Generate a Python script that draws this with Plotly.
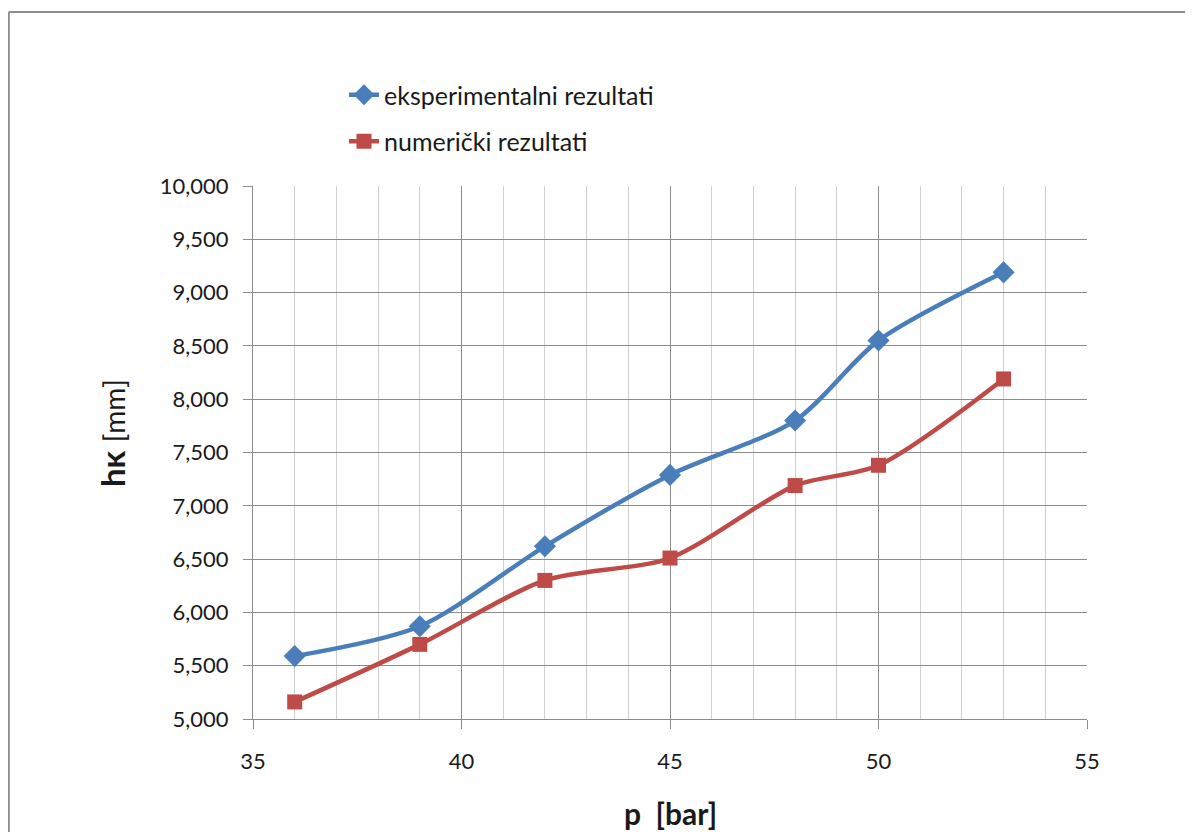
import plotly.graph_objects as go

p_exp = [36, 39, 42, 45, 48, 50, 53]
hk_exp = [5.59, 5.87, 6.62, 7.29, 7.80, 8.55, 9.19]
p_num = [36, 39, 42, 45, 48, 50, 53]
hk_num = [5.16, 5.70, 6.30, 6.51, 7.19, 7.38, 8.19]
name_exp = "eksperimentalni rezultati"
name_num = "numerički rezultati"

BLUE = "#4A7EBB"
RED = "#BE4B48"
FONT = "Lato, 'Liberation Sans', sans-serif"

fig = go.Figure()
fig.add_trace(go.Scatter(
    x=p_exp, y=hk_exp, name=name_exp, mode="lines+markers",
    line=dict(color=BLUE, width=4.5, shape="spline", smoothing=0.8),
    marker=dict(symbol="diamond", size=17, color=BLUE),
    legendgroup="a",
))
fig.add_trace(go.Scatter(
    x=p_num, y=hk_num, name=name_num, mode="lines+markers",
    line=dict(color=RED, width=4.5, shape="spline", smoothing=0.8),
    marker=dict(symbol="square", size=15, color=RED),
    legendgroup="b",
))

OFF = 8  # page body margin
W, H = 1193 - OFF, 832 - OFF
L, R, T, B = 253 - OFF, 1193 - 1087, 186 - OFF, 832 - 719
pw, ph = W - L - R, H - T - B

def px(xp):
    return (xp - OFF - L) / pw

def py(yp):
    return (H - B - (yp - OFF)) / ph

fig.update_layout(
    width=W, height=H,
    margin=dict(l=L, r=R, t=T, b=B, autoexpand=False),
    paper_bgcolor="white", plot_bgcolor="white",
    separators=",.",
    font=dict(family=FONT, size=22, color="#1a1a1a"),
    legend=dict(x=px(344), y=py(72), xanchor="left", yanchor="top",
                traceorder="grouped", tracegroupgap=11,
                font=dict(size=25, color="#1a1a1a"), bgcolor="rgba(0,0,0,0)"),
    xaxis=dict(
        range=[35, 55], dtick=5, tick0=35,
        showgrid=True, gridcolor="#8c8c8c", gridwidth=1,
        minor=dict(dtick=1, showgrid=True, gridcolor="#cfcfcf", gridwidth=1),
        ticks="outside", ticklen=9, tickcolor="#8c8c8c",
        showline=True, linecolor="#8c8c8c", linewidth=1,
        zeroline=False, mirror=False,
        tickfont=dict(size=22), ticklabelstandoff=14,
    ),
    yaxis=dict(
        range=[5, 10], dtick=0.5, tick0=5, tickformat=".3f",
        showgrid=True, gridcolor="#8c8c8c", gridwidth=1,
        ticks="outside", ticklen=9, tickcolor="#8c8c8c",
        showline=True, linecolor="#8c8c8c", linewidth=1,
        zeroline=False,
        tickfont=dict(size=22), ticklabelstandoff=10,
    ),
    annotations=[
        dict(text="<b>p  [bar]</b>", xref="paper", yref="paper",
             x=px(670), y=py(813), showarrow=False,
             font=dict(size=30, color="#1a1a1a"), xanchor="center", yanchor="middle"),
        dict(text="<b>hκ</b> <span style='font-size:28px'>[mm]</span>", xref="paper", yref="paper",
             x=px(112), y=py(433), showarrow=False, textangle=-90,
             font=dict(size=33, color="#1a1a1a"), xanchor="center", yanchor="middle"),
    ],
    shapes=[
        dict(type="line", xref="paper", yref="paper",
             x0=px(8.8), x1=px(1200), y0=py(12), y1=py(12),
             line=dict(color="#8c8c8c", width=2), layer="below"),
        dict(type="line", xref="paper", yref="paper",
             x0=px(8.8), x1=px(8.8), y0=py(12), y1=py(900),
             line=dict(color="#8c8c8c", width=2), layer="below"),
    ],
)

fig.write_html("out.html")
